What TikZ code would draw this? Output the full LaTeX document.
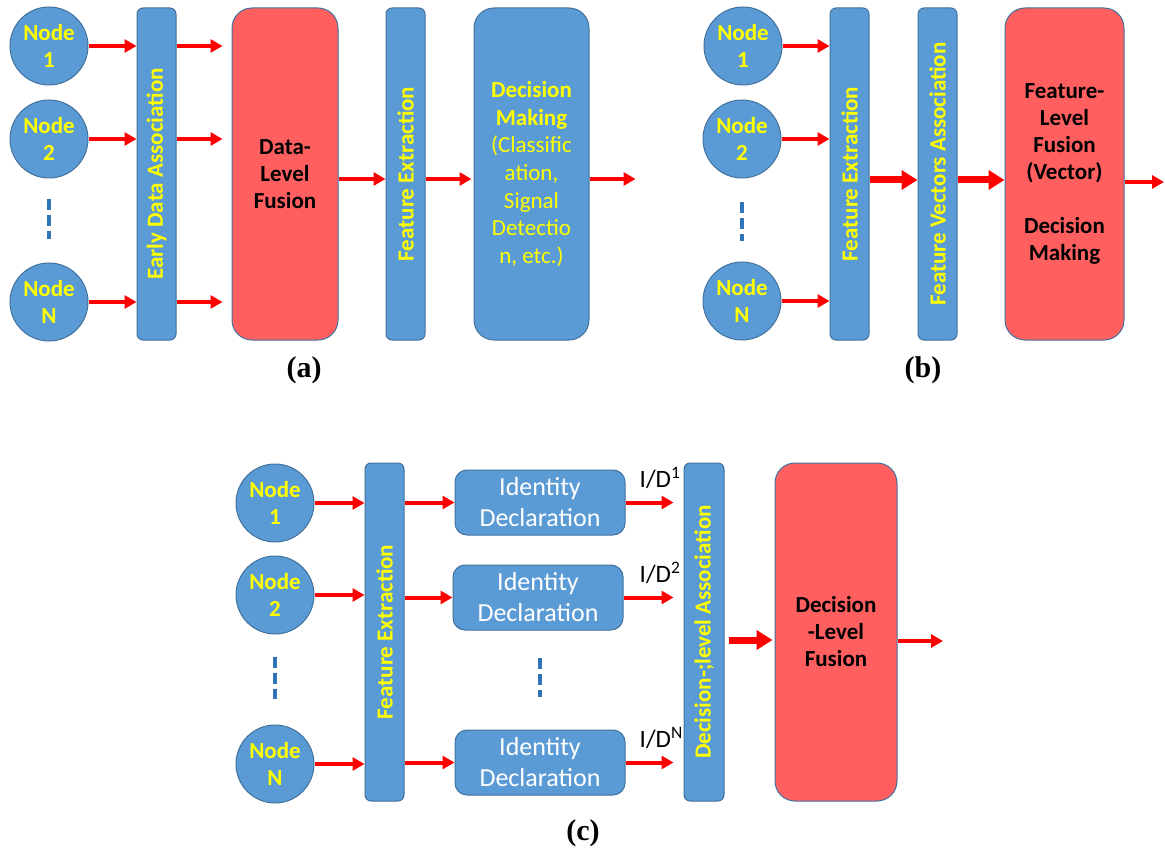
\documentclass[tikz,border=0pt]{standalone}
\usepackage{fontspec}
\setmainfont{Carlito}
\newfontfamily\panelfont{Liberation Serif}
\usetikzlibrary{arrows.meta, positioning}

\definecolor{boxblue}{HTML}{5B9BD5}
\definecolor{edgeblue}{HTML}{41719C}
\definecolor{fusered}{HTML}{FF5F5F}
\definecolor{dotblue}{HTML}{2E75B6}
\definecolor{textyellow}{HTML}{FFFF00}

\begin{document}
\begin{tikzpicture}[
  x=1pt, y=-1pt,
  node distance=48pt and 48pt,
  sensor/.style={draw=edgeblue, line width=1pt, fill=boxblue, circle,
                 minimum size=78pt, inner sep=0pt, align=center,
                 text=textyellow, font=\bfseries\fontsize{23}{27.5}\selectfont},
  bar/.style={draw=edgeblue, line width=1pt, fill=boxblue, rectangle,
              rounded corners=6pt, minimum width=39pt, minimum height=332pt,
              inner sep=0pt},
  bartext/.style={rotate=90, text=textyellow, inner sep=0pt,
                  font=\bfseries\fontsize{23}{27}\selectfont},
  fusion/.style={draw=edgeblue, line width=1pt, fill=fusered, rectangle,
                 rounded corners=20pt, minimum height=332pt, align=center,
                 font=\bfseries\fontsize{23}{27}\selectfont},
  decbox/.style={draw=edgeblue, line width=1pt, fill=boxblue, rectangle,
                 rounded corners=20pt, minimum width=115pt, minimum height=332pt,
                 align=center, text=textyellow,
                 font=\fontsize{23}{27.7}\selectfont},
  idbox/.style={draw=edgeblue, line width=1pt, fill=boxblue, rectangle,
                rounded corners=12pt, minimum width=170pt, minimum height=65pt,
                inner sep=0pt, align=center, text=white,
                font=\fontsize{26}{31}\selectfont},
  idlabel/.style={anchor=base west, inner sep=0pt,
                  font=\fontsize{25}{30}\selectfont},
  arrow/.style={draw=red, line width=4pt,
                -{Stealth[length=12pt, width=13pt, inset=0pt]}},
  bigarrow/.style={draw=red, line width=7pt,
                   -{Stealth[length=16pt, width=19pt, inset=0pt]}},
  dots/.style={draw=dotblue, line width=4pt, dash pattern=on 11pt off 5pt},
  panel/.style={font=\panelfont\bfseries\fontsize{30}{34}\selectfont},
]
  \useasboundingbox (0,0) rectangle (1165,853);

  % (a)
  \node[sensor] (n1a) at (49,46) {Node\\1};
  \node[sensor] (n2a) at (49,139) {Node\\2};
  \node[sensor] (nNa) at (49,302) {Node\\N};
  \draw[dots] ([yshift=-21pt]n2a.south) -- ([yshift=23pt]nNa.north);
  \node[bar] (eda) at (156.5,174) {};
  \node[bartext] (edatext) at (eda.center) {Early Data Association};
  \node[fusion, minimum width=106pt, right=55pt of eda] (dlfa) {Data-\\Level\\Fusion};
  \node[bar, right=47pt of dlfa] (fea) {};
  \node[bartext] (featext) at (fea.center) {Feature Extraction};
  \node[decbox, right=48pt of fea] (dma)
    {\textbf{Decision}\\\textbf{Making}\\(Classific\\ation,\\Signal\\Detectio\\n, etc.)};
  \coordinate (amid) at (0,179);
  \draw[arrow] (n1a.east) -- (n1a.east -| eda.west);
  \draw[arrow] (n2a.east) -- (n2a.east -| eda.west);
  \draw[arrow] (nNa.east) -- (nNa.east -| eda.west);
  \draw[arrow, shorten >=9pt] (eda.east |- n1a) -- (dlfa.west |- n1a);
  \draw[arrow, shorten >=9pt] (eda.east |- n2a) -- (dlfa.west |- n2a);
  \draw[arrow, shorten >=9pt] (eda.east |- nNa) -- (dlfa.west |- nNa);
  \draw[arrow] (dlfa.east |- amid) -- (fea.west |- amid);
  \draw[arrow, shorten >=2pt] (fea.east |- amid) -- (dma.west |- amid);
  \coordinate[right=46pt of dma.east |- amid] (outa);
  \draw[arrow] (dma.east |- amid) -- (outa);
  \node[panel] (laba) at (304,370) {(a)};

  % (b)
  \node[sensor] (n1b) at (743,46) {Node\\1};
  \node[sensor] (n2b) at (742,139) {Node\\2};
  \node[sensor] (nNb) at (742,301) {Node\\N};
  \draw[dots] ([yshift=-24pt]n2b.south) -- ([yshift=20pt]nNb.north);
  \node[bar] (feb) at (849.5,174) {};
  \node[bartext] (febtext) at (feb.center) {Feature Extraction};
  \node[bar, right=48pt of feb] (fva) {};
  \node[bartext] (fvatext) at (fva.center) {Feature Vectors Association};
  \node[fusion, minimum width=119pt, right=47pt of fva] (flf)
    {Feature-\\Level\\Fusion\\(Vector)\\[27pt]Decision\\Making};
  \coordinate (bmid) at (0,180);
  \draw[arrow] (n1b.east) -- (n1b.east -| feb.west);
  \draw[arrow] (n2b.east) -- (n2b.east -| feb.west);
  \draw[arrow] (nNb.east) -- (nNb.east -| feb.west);
  \draw[bigarrow] (feb.east |- bmid) -- (fva.west |- bmid);
  \draw[bigarrow] (fva.east |- bmid) -- (flf.west |- bmid);
  \coordinate (outb) at (1164,182);
  \draw[arrow] (flf.east |- outb) -- (outb);
  \node[panel] (labb) at (923,370) {(b)};

  % (c)
  \node[sensor] (n1c) at (275,503) {Node\\1};
  \node[sensor] (n2c) at (275,595) {Node\\2};
  \node[sensor] (nNc) at (275,764) {Node\\N};
  \draw[dots] ([yshift=-22pt]n2c.south) -- ([yshift=26pt]nNc.north);
  \node[bar, minimum height=338pt] (fec) at (384.5,632) {};
  \node[bartext] (fectext) at (fec.center) {Feature Extraction};
  \node[idbox] (id1) at (540,502.5) {Identity\\Declaration};
  \node[idbox] (id2) at (538,597.5) {Identity\\Declaration};
  \node[idbox] (idN) at (540,762.5) {Identity\\Declaration};
  \draw[dots] ([yshift=-27pt]idN.north |- id2.south) -- ([yshift=33pt]idN.north);
  \node[bar, minimum width=40pt, minimum height=338pt] (dla) at (704,632) {};
  \node[bartext] (dlatext) at (dla.center) {Decision-;level Association};
  \node[fusion, minimum width=122pt, minimum height=338pt, right=50pt of dla] (dlfc)
    {Decision\\-Level\\Fusion};
  \draw[arrow] (n1c.east) -- (n1c.east -| fec.west);
  \draw[arrow] (n2c.east) -- (n2c.east -| fec.west);
  \draw[arrow] (nNc.east) -- (nNc.east -| fec.west);
  \draw[arrow] (fec.east |- id1) -- (id1.west);
  \draw[arrow] (fec.east |- id2) -- (id2.west);
  \draw[arrow] (fec.east |- idN) -- (idN.west);
  \draw[arrow, shorten >=10pt] (id1.east) -- (id1.east -| dla.west);
  \draw[arrow, shorten >=10pt] (id2.east) -- (id2.east -| dla.west);
  \draw[arrow, shorten >=10pt] (idN.east) -- (idN.east -| dla.west);
  \node[idlabel] (d1) at ([xshift=14pt, yshift=15pt]id1.east) {I/D\textsuperscript{1}};
  \node[idlabel] (d2) at ([xshift=16pt, yshift=15pt]id2.east) {I/D\textsuperscript{2}};
  \node[idlabel] (dN) at ([xshift=14pt, yshift=15pt]idN.east) {I/D\textsuperscript{N}};
  \coordinate (cmid) at (0,640);
  \draw[bigarrow, shorten <=4pt, shorten >=2pt] (dla.east |- cmid) -- (dlfc.west |- cmid);
  \coordinate (outc) at (943,641);
  \draw[arrow] (dlfc.east |- outc) -- (outc);
  \node[panel] (labc) at (583,833) {(c)};
\end{tikzpicture}
\end{document}
